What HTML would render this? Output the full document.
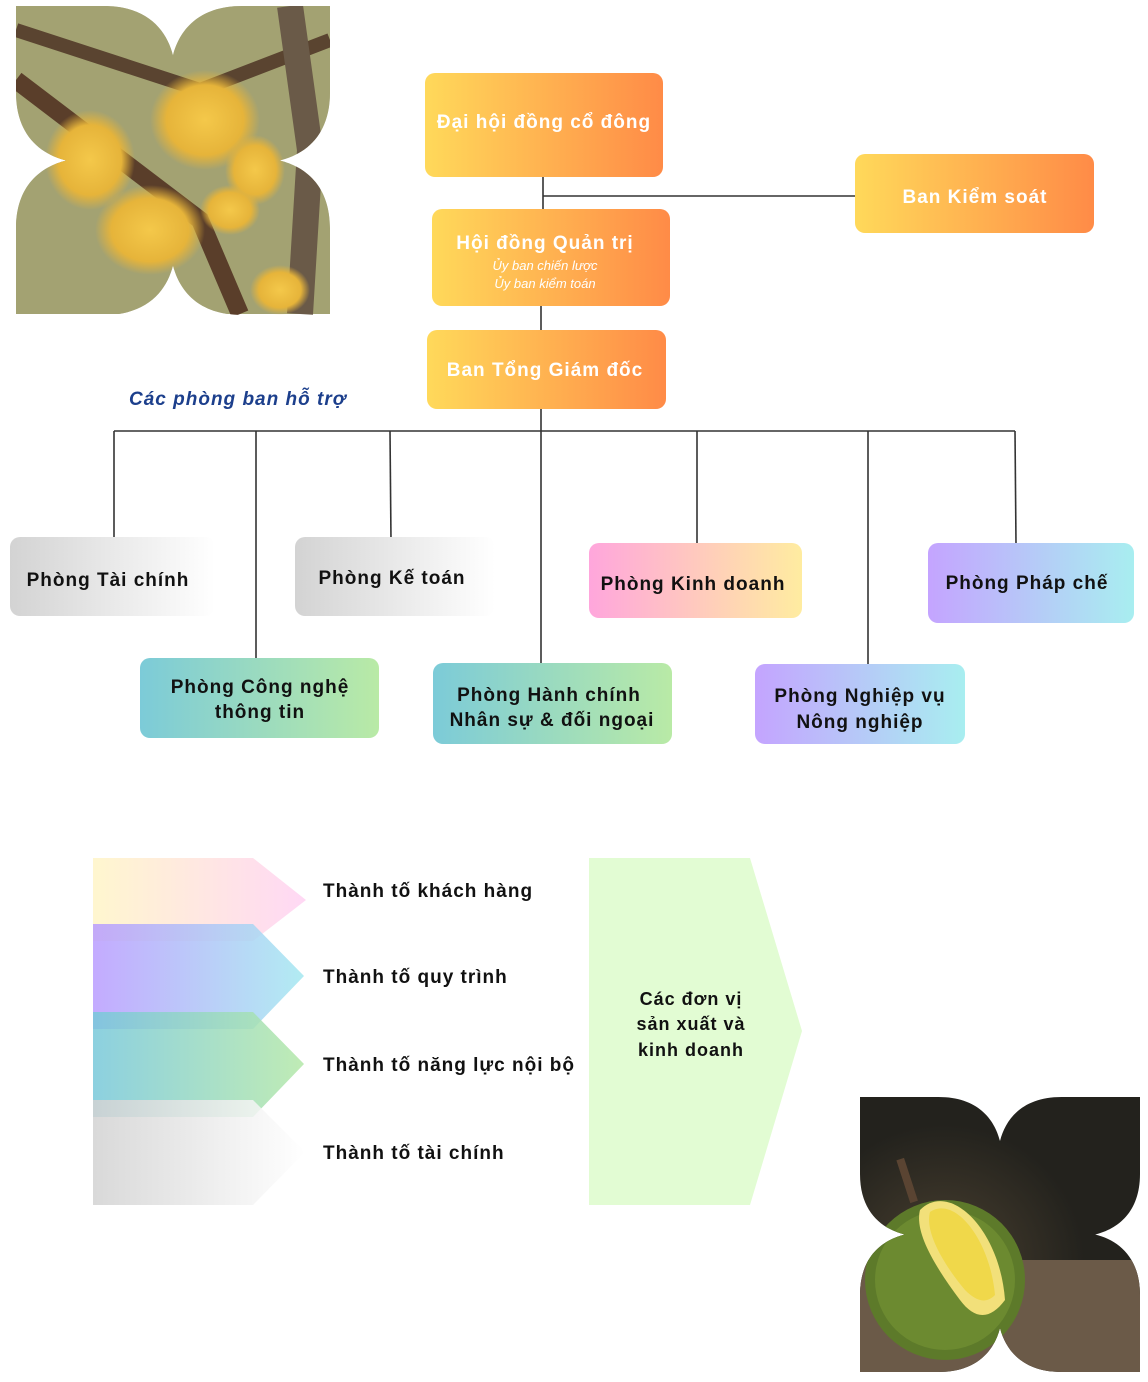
<!DOCTYPE html>
<html><head><meta charset="utf-8"><style>
html,body{margin:0;padding:0;background:#fff;}
svg{display:block;font-family:"Liberation Sans","DejaVu Sans",sans-serif;}
</style></head><body>
<svg width="1148" height="1382" viewBox="0 0 1148 1382" xmlns="http://www.w3.org/2000/svg">
<defs>
<linearGradient id="og" x1="0" x2="1"><stop offset="0" stop-color="#ffd95a"/><stop offset="1" stop-color="#ff8b47"/></linearGradient>
<linearGradient id="gr" x1="0" x2="1"><stop offset="0" stop-color="#d3d3d3"/><stop offset="1" stop-color="#ffffff"/></linearGradient>
<linearGradient id="pk" x1="0" x2="1"><stop offset="0" stop-color="#ffa6dc"/><stop offset="1" stop-color="#ffeca0"/></linearGradient>
<linearGradient id="pu" x1="0" x2="1"><stop offset="0" stop-color="#c4a4ff"/><stop offset="1" stop-color="#a8eef0"/></linearGradient>
<linearGradient id="tl" x1="0" x2="1"><stop offset="0" stop-color="#7ccbd8"/><stop offset="1" stop-color="#b9eaa6"/></linearGradient>
<linearGradient id="c1" x1="0" x2="1"><stop offset="0" stop-color="#fff6cc"/><stop offset="1" stop-color="#ffd6f4"/></linearGradient>
<linearGradient id="c2" x1="0" x2="1"><stop offset="0" stop-color="#b99cff"/><stop offset="1" stop-color="#a4e8f0"/></linearGradient>
<linearGradient id="c3" x1="0" x2="1"><stop offset="0" stop-color="#78c8da"/><stop offset="1" stop-color="#b4e8a8"/></linearGradient>
<linearGradient id="c4" x1="0" x2="1"><stop offset="0" stop-color="#d2d2d2"/><stop offset="1" stop-color="#ffffff"/></linearGradient>
<clipPath id="fl" clipPathUnits="objectBoundingBox">
<path d="M0,0 L0.28,0 C0.42,0 0.48,0.08 0.5,0.16 C0.52,0.08 0.58,0 0.72,0 L1,0 L1,0.28 C1,0.42 0.92,0.48 0.84,0.5 C0.92,0.52 1,0.58 1,0.72 L1,1 L0.72,1 C0.58,1 0.52,0.92 0.5,0.84 C0.48,0.92 0.42,1 0.28,1 L0,1 L0,0.72 C0,0.58 0.08,0.52 0.16,0.5 C0.08,0.48 0,0.42 0,0.28Z"/>
</clipPath>
<radialGradient id="yb"><stop offset="0" stop-color="#f4c84a"/><stop offset="0.7" stop-color="#e6b43a"/><stop offset="1" stop-color="#e6b43a" stop-opacity="0"/></radialGradient>
<radialGradient id="dk" cx="0.3" cy="0.6"><stop offset="0" stop-color="#4a4030"/><stop offset="1" stop-color="#23221d"/></radialGradient>
</defs>

<!-- flower image -->
<g clip-path="url(#fl)">
<rect x="16" y="6" width="314" height="308" fill="#8c8a5a"/>
<rect x="16" y="6" width="314" height="308" fill="#b9b98a" opacity="0.5"/>
<path d="M16,30 L200,90 L330,40" stroke="#5a4430" stroke-width="14" fill="none"/>
<path d="M16,80 L200,220 L240,314" stroke="#5a3e2a" stroke-width="18" fill="none"/>
<path d="M290,6 L310,150 L300,314" stroke="#6a5a48" stroke-width="26" fill="none"/>
<ellipse cx="205" cy="120" rx="55" ry="50" fill="url(#yb)"/>
<ellipse cx="90" cy="160" rx="45" ry="50" fill="url(#yb)"/>
<ellipse cx="150" cy="230" rx="55" ry="45" fill="url(#yb)"/>
<ellipse cx="255" cy="170" rx="30" ry="35" fill="url(#yb)"/>
<ellipse cx="230" cy="210" rx="30" ry="25" fill="url(#yb)"/>
<ellipse cx="280" cy="290" rx="30" ry="25" fill="url(#yb)"/>
</g>

<!-- durian image -->
<g clip-path="url(#fl)">
<rect x="860" y="1097" width="280" height="275" fill="url(#dk)"/>
<rect x="860" y="1260" width="280" height="112" fill="#6b5a48"/>
<circle cx="945" cy="1280" r="80" fill="#5d7a2a"/>
<circle cx="945" cy="1280" r="70" fill="#6c8a30"/>
<path d="M920,1210 C950,1180 1000,1230 1005,1300 C990,1320 975,1320 960,1300 C930,1260 915,1230 920,1210Z" fill="#f2e07a"/>
<path d="M930,1212 C955,1195 990,1240 995,1295 C985,1305 975,1300 965,1290 C940,1260 925,1230 930,1212Z" fill="#f0d84a"/>
<rect x="903" y="1158" width="8" height="45" fill="#5a4432" transform="rotate(-18 907 1180)"/>
</g>

<!-- connectors -->
<g stroke="#333" stroke-width="1.6" fill="none">
<line x1="543" y1="177" x2="543" y2="210"/>
<line x1="543" y1="196" x2="856" y2="196"/>
<line x1="541" y1="306" x2="541" y2="331"/>
<line x1="541" y1="409" x2="541" y2="664"/>
<line x1="114" y1="431" x2="1015" y2="431"/>
<line x1="114" y1="431" x2="114" y2="538"/>
<line x1="256" y1="431" x2="256" y2="659"/>
<line x1="390" y1="431" x2="391" y2="541"/>
<line x1="697" y1="431" x2="697" y2="544"/>
<line x1="868" y1="431" x2="868" y2="665"/>
<line x1="1015" y1="431" x2="1016" y2="544"/>
</g>

<!-- top boxes -->
<rect x="425" y="73" width="238" height="104" rx="10" fill="url(#og)"/>
<text x="544" y="128" text-anchor="middle" fill="#fff" font-weight="bold" font-size="19" letter-spacing="1">Đại hội đồng cổ đông</text>
<rect x="855" y="154" width="239" height="79" rx="10" fill="url(#og)"/>
<text x="975" y="203" text-anchor="middle" fill="#fff" font-weight="bold" font-size="19" letter-spacing="1">Ban Kiểm soát</text>
<rect x="432" y="209" width="238" height="97" rx="10" fill="url(#og)"/>
<text x="545" y="249" text-anchor="middle" fill="#fff" font-weight="bold" font-size="19" letter-spacing="1">Hội đồng Quản trị</text>
<text x="545" y="270" text-anchor="middle" fill="#fff" font-style="italic" font-size="13">Ủy ban chiến lược</text>
<text x="545" y="288" text-anchor="middle" fill="#fff" font-style="italic" font-size="13">Ủy ban kiểm toán</text>
<rect x="427" y="330" width="239" height="79" rx="10" fill="url(#og)"/>
<text x="545" y="376" text-anchor="middle" fill="#fff" font-weight="bold" font-size="19" letter-spacing="1">Ban Tổng Giám đốc</text>

<text x="129" y="405" fill="#1c3f8c" font-weight="bold" font-style="italic" font-size="19" letter-spacing="1">Các phòng ban hỗ trợ</text>

<!-- departments -->
<g font-weight="bold" font-size="19" fill="#111" letter-spacing="1" text-anchor="middle">
<rect x="10" y="537" width="205" height="79" rx="10" fill="url(#gr)"/>
<text x="108" y="586">Phòng Tài chính</text>
<rect x="295" y="537" width="200" height="79" rx="10" fill="url(#gr)"/>
<text x="392" y="584">Phòng Kế toán</text>
<rect x="589" y="543" width="213" height="75" rx="10" fill="url(#pk)"/>
<text x="693" y="590">Phòng Kinh doanh</text>
<rect x="928" y="543" width="206" height="80" rx="10" fill="url(#pu)"/>
<text x="1027" y="589">Phòng Pháp chế</text>
<rect x="140" y="658" width="239" height="80" rx="10" fill="url(#tl)"/>
<text x="260" y="693">Phòng Công nghệ</text>
<text x="260" y="718">thông tin</text>
<rect x="433" y="663" width="239" height="81" rx="10" fill="url(#tl)"/>
<text x="549" y="701">Phòng Hành chính</text>
<text x="552" y="726">Nhân sự &amp; đối ngoại</text>
<rect x="755" y="664" width="210" height="80" rx="10" fill="url(#pu)"/>
<text x="860" y="702">Phòng Nghiệp vụ</text>
<text x="860" y="728">Nông nghiệp</text>
</g>

<!-- chevrons -->
<polygon points="93,858 253,858 306,900 253,941 93,941" fill="url(#c1)" opacity="0.95"/>
<polygon points="93,924 253,924 304,976 253,1029 93,1029" fill="url(#c2)" opacity="0.85"/>
<polygon points="93,1012 253,1012 304,1064 253,1117 93,1117" fill="url(#c3)" opacity="0.85"/>
<polygon points="93,1100 253,1100 305,1152 253,1205 93,1205" fill="url(#c4)" opacity="0.85"/>
<g font-weight="bold" font-size="19" fill="#111" letter-spacing="1">
<text x="323" y="897">Thành tố khách hàng</text>
<text x="323" y="983">Thành tố quy trình</text>
<text x="323" y="1071">Thành tố năng lực nội bộ</text>
<text x="323" y="1159">Thành tố tài chính</text>
</g>
<polygon points="589,858 750,858 802,1031 750,1205 589,1205" fill="#e2fcd3"/>
<g font-weight="bold" font-size="18" fill="#111" letter-spacing="1" text-anchor="middle">
<text x="691" y="1005">Các đơn vị</text>
<text x="691" y="1030">sản xuất và</text>
<text x="691" y="1056">kinh doanh</text>
</g>
</svg>
</body></html>
